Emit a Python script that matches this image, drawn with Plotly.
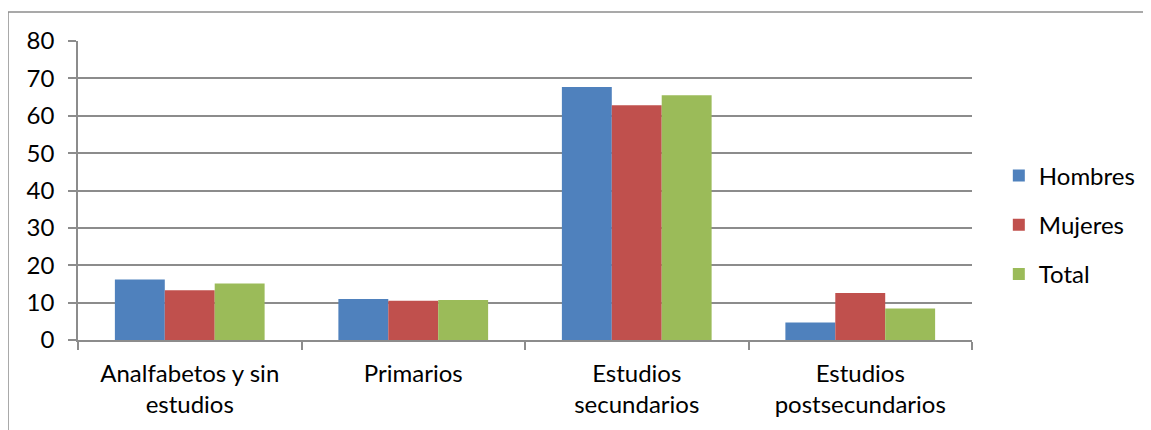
import plotly.graph_objects as go

categories = ["Analfabetos y sin<br>estudios", "Primarios", "Estudios<br>secundarios", "Estudios<br>postsecundarios"]
hombres = [16.2, 11.0, 67.7, 4.7]
mujeres = [13.3, 10.5, 62.8, 12.6]
total = [15.1, 10.7, 65.5, 8.4]
y_ticks = [0, 10, 20, 30, 40, 50, 60, 70, 80]

series = [("Hombres", hombres, "#4F81BD"), ("Mujeres", mujeres, "#C0504D"), ("Total", total, "#9BBB59")]

fig = go.Figure()
for name, vals, col in series:
    fig.add_trace(go.Bar(x=categories, y=vals, name=name, marker=dict(color=col, line=dict(width=0)),
                         legendgroup=name))

grid = "#8C8C8C"
fig.update_layout(
    width=1143, height=422,
    margin=dict(l=70, r=179, t=33, b=90, autoexpand=False),
    paper_bgcolor="white", plot_bgcolor="white",
    font=dict(family="Lato", size=24, color="black"),
    bargap=0.33, bargroupgap=0,
    showlegend=True,
    legend=dict(x=1.03, xanchor="left", y=0.385, yanchor="middle", tracegroupgap=15,
                font=dict(size=24), itemsizing="constant"),
    xaxis=dict(showline=True, linecolor=grid, linewidth=1.5, ticks="outside", tickson="boundaries",
               ticklen=8, tickcolor=grid, tickwidth=1.5, showgrid=False, tickfont=dict(size=24),
               ticklabelstandoff=11),
    yaxis=dict(range=[0, 80], tickvals=y_ticks, showline=True, linecolor=grid, linewidth=1.5,
               ticks="outside", ticklen=8, tickcolor=grid, tickwidth=1.5, showgrid=True,
               gridcolor=grid, gridwidth=1.5, zeroline=False, tickfont=dict(size=24),
               ticklabelstandoff=9),
    shapes=[
        dict(type="line", xref="paper", yref="paper", x0=-0.0783, x1=1.5, y0=1.097, y1=1.097,
             line=dict(color=grid, width=1.5)),
        dict(type="line", xref="paper", yref="paper", x0=-0.0783, x1=-0.0783, y0=1.097, y1=-0.5,
             line=dict(color=grid, width=1.5)),
    ],
)
fig.write_html("out.html")
